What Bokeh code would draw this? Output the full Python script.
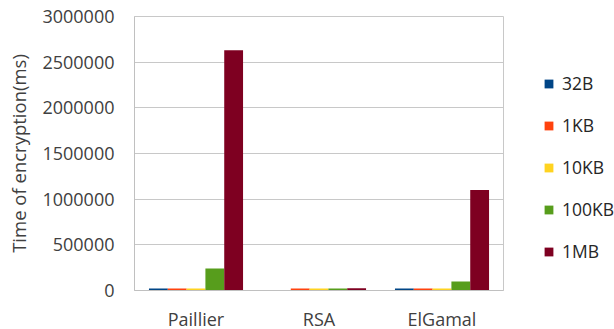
from bokeh.plotting import figure
from bokeh.models import ColumnDataSource, FactorRange, Range1d, FixedTicker, BasicTickFormatter, Legend, LegendItem
from bokeh.transform import dodge
from bokeh.embed import file_html
from bokeh.resources import INLINE

schemes = ["Paillier", "RSA", "ElGamal"]
sizes = ["32B", "1KB", "10KB", "100KB", "1MB"]
v_32B = [22000, 0, 22000]
v_1KB = [22000, 22000, 22000]
v_10KB = [22000, 22000, 22000]
v_100KB = [240000, 22000, 98000]
v_1MB = [2630000, 24000, 1100000]
colors = ["#004586", "#ff420e", "#ffd320", "#579d1c", "#7e0021"]
y_ticks = [0, 500000, 1000000, 1500000, 2000000, 2500000, 3000000]

FONT = "Open Sans"
TXT = "#404040"

source = ColumnDataSource(dict(cat=schemes, s0=v_32B, s1=v_1KB, s2=v_10KB, s3=v_100KB, s4=v_1MB))

p = figure(x_range=FactorRange(*schemes, range_padding=0), y_range=Range1d(0, 3000000),
           width=614, height=329, frame_width=369, frame_height=274,
           min_border_left=134, min_border_top=16, min_border_bottom=39, min_border_right=0,
           output_backend="svg", toolbar_location=None)

bw = 0.153
offsets = [-2 * bw, -bw, 0, bw, 2 * bw]
items = []
for i, (name, col) in enumerate(zip(sizes, colors)):
    r = p.vbar(x=dodge("cat", offsets[i], range=p.x_range), top="s%d" % i, width=bw,
               source=source, fill_color=col, line_color=None)
    items.append(LegendItem(label=name, renderers=[r]))

legend = Legend(items=items, location=(40, 27), orientation="vertical",
                glyph_width=11, glyph_height=11, label_standoff=8,
                label_height=20, spacing=18, padding=0, margin=0,
                label_text_font=FONT, label_text_font_size="17.5px", label_text_color="#262626",
                background_fill_alpha=0, border_line_alpha=0)
p.add_layout(legend, "right")

p.yaxis.ticker = FixedTicker(ticks=y_ticks)
p.yaxis.formatter = BasicTickFormatter(use_scientific=False)
p.yaxis.axis_label = "Time of encryption(ms)"
p.yaxis.axis_label_text_font = FONT
p.yaxis.axis_label_text_font_size = "18.5px"
p.yaxis.axis_label_text_font_style = "normal"
p.yaxis.axis_label_text_color = TXT
p.yaxis.axis_label_standoff = 8

for ax in (p.xaxis, p.yaxis):
    ax.major_label_text_font = FONT
    ax.major_label_text_font_size = "18px"
    ax.major_label_text_color = TXT
    ax.major_tick_line_color = None
    ax.minor_tick_line_color = None
    ax.axis_line_color = "#c0c0c0"
p.yaxis.major_label_standoff = 14
p.xaxis.major_label_standoff = 10

p.xgrid.grid_line_color = None
p.ygrid.grid_line_color = "#c8c8c8"
p.outline_line_color = "#c8c8c8"
p.background_fill_color = "white"
p.border_fill_color = "white"

open("out.html", "w").write(file_html(p, INLINE))
